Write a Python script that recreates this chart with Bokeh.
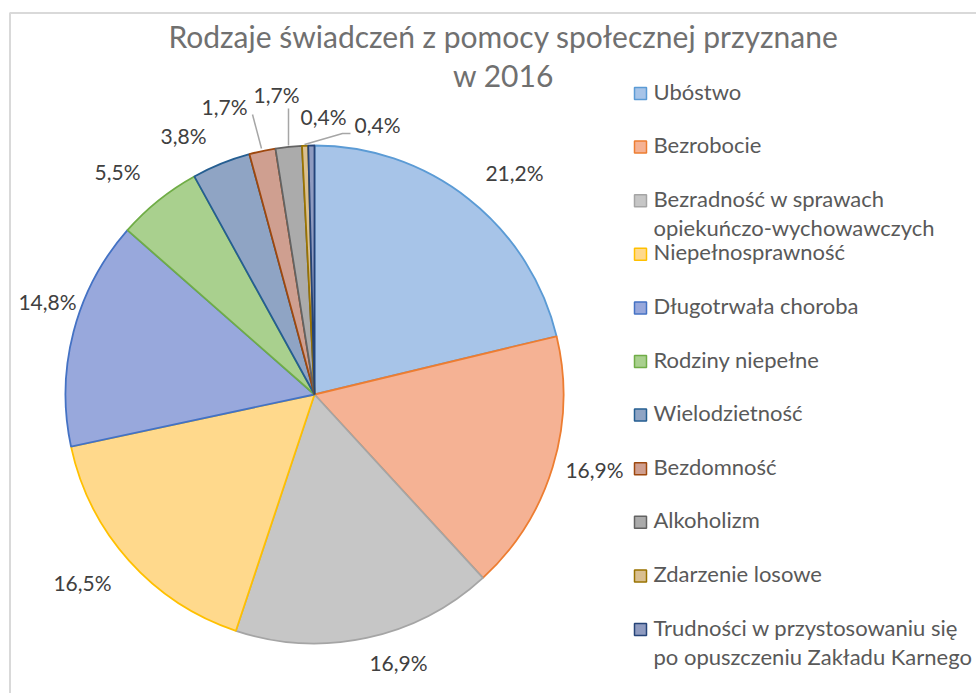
import math
from bokeh.plotting import figure
from bokeh.models import Range1d, ColumnDataSource
from bokeh.core.properties import value
from bokeh.embed import file_html
from bokeh.resources import INLINE

# ---------------- data ----------------
categories = [
    "Ubóstwo", "Bezrobocie", "Bezradność w sprawach\nopiekuńczo-wychowawczych",
    "Niepełnosprawność", "Długotrwała choroba", "Rodziny niepełne",
    "Wielodzietność", "Bezdomność", "Alkoholizm", "Zdarzenie losowe",
    "Trudności w przystosowaniu się\npo opuszczeniu Zakładu Karnego",
]
values = [21.2, 16.9, 16.9, 16.5, 14.8, 5.5, 3.8, 1.7, 1.7, 0.4, 0.4]
title_lines = ["Rodzaje świadczeń z pomocy społecznej przyznane", "w 2016"]

# ---------------- styles ----------------
fill_colors = ["#a7c4e8", "#f5b294", "#c6c6c6", "#ffd98c", "#98a8dc", "#a9d08e",
               "#8fa4c4", "#cf9f90", "#ababab", "#d9bf90", "#8f9bc0"]
line_colors = ["#5b9bd5", "#ed7d31", "#a5a5a5", "#ffc000", "#4472c4", "#70ad47",
               "#255e91", "#9e480e", "#636363", "#997300", "#264478"]

W, H = 976, 693
PAGE_H = 693
FONT = "Lato"
TXT_SHIFT = -2.5  # vertical correction of text centres


def Y(py):
    # page pixel y -> data y
    return PAGE_H - py


p = figure(width=W, height=H, output_backend="svg", toolbar_location=None,
           x_range=Range1d(0, W), y_range=Range1d(PAGE_H - H, PAGE_H),
           min_border=0, min_border_left=0, min_border_right=0,
           min_border_top=0, min_border_bottom=0)
p.axis.visible = False
p.grid.visible = False
p.outline_line_color = None
p.background_fill_color = "white"
p.border_fill_color = "white"

# chart frame (only top and left edges are inside the view)
p.line(x=[9.5, 9.5, 990], y=[Y(710), Y(12.5), Y(12.5)], line_color="#d9d9d9", line_width=2)

# ---------------- pie ----------------
cx, cy, R = 314, Y(394), 249
total = sum(values)
starts, ends = [], []
cum = 0.0
for v in values:
    a0 = math.pi / 2 - 2 * math.pi * cum / total
    cum += v
    a1 = math.pi / 2 - 2 * math.pi * cum / total
    starts.append(a1)
    ends.append(a0)

src = ColumnDataSource(dict(start=starts, end=ends, fill=fill_colors, line=line_colors))
p.wedge(x=cx, y=cy, radius=R, start_angle="start", end_angle="end", direction="anticlock",
        fill_color="fill", line_color="line", line_width=1.8, source=src)

# ---------------- data labels ----------------
label_pos = [(514, 174), (594, 471), (398, 664), (82, 584), (47, 303), (117, 173),
             (183, 137), (224, 108), (276, 96), (323, 118), (377, 126)]
labels = [f"{v:.1f}%".replace(".", ",") for v in values]
p.text(x=[q[0] for q in label_pos], y=[Y(q[1] + TXT_SHIFT) for q in label_pos], text=labels,
       text_font=value(FONT), text_font_size="21px", text_color="#404040",
       text_align="center", text_baseline="middle")

# leader lines
p.line(x=[252, 261], y=[Y(114), Y(148)], line_color="#a6a6a6", line_width=1.5)
p.line(x=[288, 288], y=[Y(108), Y(145)], line_color="#a6a6a6", line_width=1.5)
p.line(x=[304, 342, 350], y=[Y(144), Y(133), Y(133)], line_color="#a6a6a6", line_width=1.5)

# ---------------- title ----------------
p.text(x=[503, 503], y=[Y(38 + TXT_SHIFT), Y(77 + TXT_SHIFT)], text=title_lines,
       text_font=value(FONT), text_font_size="30px", text_color="#707070",
       text_align="center", text_baseline="middle")

# ---------------- legend ----------------
leg_y0, leg_dy, sub_dy = 93, 53.6, 29
sq_x, sq_y = [], []
tx, ty, tt = [], [], []
for i, c in enumerate(categories):
    yy = leg_y0 + i * leg_dy
    sq_x.append(640)
    sq_y.append(Y(yy))
    for j, line in enumerate(c.split("\n")):
        tx.append(653)
        ty.append(Y(yy + j * sub_dy + TXT_SHIFT))
        tt.append(line)
p.rect(x=sq_x, y=sq_y, width=12, height=12, fill_color=fill_colors, line_color=line_colors,
       line_width=1.5)
p.text(x=tx, y=ty, text=tt, text_font=value(FONT), text_font_size="22px",
       text_color="#595959", text_align="left", text_baseline="middle")

open("out.html", "w").write(file_html(p, INLINE))
